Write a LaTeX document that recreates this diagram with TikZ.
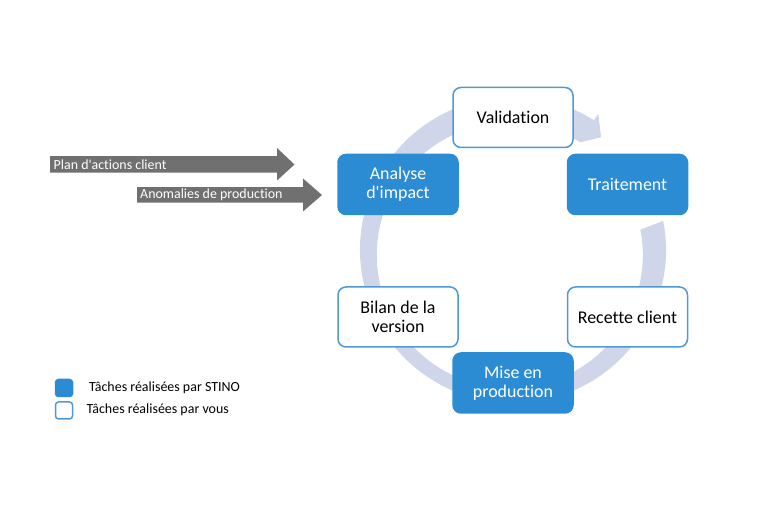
\documentclass[tikz,border=0pt]{standalone}
\usepackage{fontspec}
\setmainfont{Carlito}[Ligatures={NoCommon}]
\usetikzlibrary{positioning}
\definecolor{boxblue}{RGB}{43,140,212}
\definecolor{edgeblue}{RGB}{80,152,214}
\definecolor{bandcol}{RGB}{207,214,234}
\definecolor{arrowgray}{RGB}{112,112,112}
\tikzset{
  task/.style={minimum width=120bp, minimum height=60bp, rounded corners=8bp,
    align=center, inner sep=2bp, font=\fontsize{18}{19.5}\selectfont},
  stino/.style={task, fill=boxblue, draw=boxblue, line width=1.5bp, text=white},
  vous/.style={task, fill=white, draw=edgeblue, line width=1.5bp, text=black},
  inlabel/.style={anchor=west, inner sep=0pt, text=white, font=\fontsize{14}{16}\selectfont},
  legtext/.style={anchor=west, inner sep=0pt, text=black, font=\fontsize{14}{16}\selectfont},
  legbox/.style={minimum width=17bp, minimum height=17bp, rounded corners=3bp, line width=1.5bp, inner sep=0pt}
}
\begin{document}
\begin{tikzpicture}[x=1bp,y=1bp]
\useasboundingbox (0,0) rectangle (768,512);
% cycle band
\begin{scope}[shift={(513,262)}]
\fill[bandcol] (11:153bp) arc[start angle=11, end angle=-302, radius=153bp]
  -- (-302:161bp) -- (-308:143bp) -- (-302:127bp)
  arc[start angle=-302, end angle=11, radius=133bp] -- cycle;
\end{scope}
% task boxes
\node[vous]  (val) at (513,394.5) {Validation};
\node[stino] (tra) at (627.5,327.5) {Traitement};
\node[vous]  (rec) at (627.5,195) {Recette client};
\node[stino] (mep) at (513,129) {Mise en\\production};
\node[vous]  (bil) at (398,195) {Bilan de la\\version};
\node[stino] (ana) at (398,327.5) {Analyse\\d\textquotesingle impact};
% input arrows
\fill[arrowgray] (50,339.25) -- (277,339.25) -- (277,331.5) -- (294.5,347.5)
  -- (277,364) -- (277,355.75) -- (50,355.75) -- cycle;
\node[inlabel] (plan) at (53.5,347.5) {Plan d\textquotesingle actions client};
\fill[arrowgray] (137,309.25) -- (303,309.25) -- (303,300.5) -- (322,317)
  -- (303,333.5) -- (303,324.75) -- (137,324.75) -- cycle;
\node[inlabel] (anom) at (140,317) {Anomalies de production};
% legend
\node[legbox, fill=boxblue, draw=boxblue] (lg1) at (64,124) {};
\node[legbox, fill=white, draw=edgeblue] (lg2) at (64,101.5) {};
\node[legtext] (lt1) at (89,124) {Tâches réalisées par STINO};
\node[legtext] (lt2) at (86.5,102) {Tâches réalisées par vous};
\end{tikzpicture}
\end{document}
